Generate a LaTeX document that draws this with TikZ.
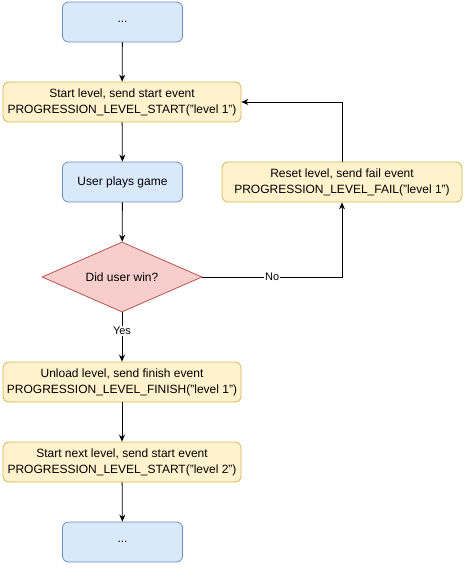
\documentclass[tikz,border=0pt]{standalone}
\usepackage{fontspec}
\setmainfont{Liberation Sans}
\usetikzlibrary{shapes.geometric,arrows.meta}

\definecolor{bluefill}{HTML}{DAE8FC}
\definecolor{bluedraw}{HTML}{6C8EBF}
\definecolor{yellowfill}{HTML}{FFF2CC}
\definecolor{yellowdraw}{HTML}{D6B656}
\definecolor{redfill}{HTML}{F8CECC}
\definecolor{reddraw}{HTML}{B85450}

\tikzset{
  box/.style={rectangle, rounded corners=6pt, line width=0.8pt, align=center,
    font=\fontsize{12}{16}\selectfont, inner sep=0pt},
  bluebox/.style={box, fill=bluefill, draw=bluedraw, minimum width=120pt, minimum height=40pt},
  yellowbox/.style={box, fill=yellowfill, draw=yellowdraw, minimum width=238pt, minimum height=40pt},
  decision/.style={diamond, fill=redfill, draw=reddraw, line width=0.8pt, aspect=2.2857,
    minimum width=160pt, minimum height=70pt, inner sep=0pt, font=\fontsize{12}{14}\selectfont},
  flow/.style={-{Stealth[length=7pt,width=6pt]}, line width=0.8pt},
  edgelabel/.style={fill=white, inner sep=1pt, font=\fontsize{11}{13}\selectfont}
}

\begin{document}
\begin{tikzpicture}[x=1pt,y=-1pt]
\useasboundingbox (0,0) rectangle (469,569);

\node[bluebox] (top) at (122.5,22) {...};
\node[yellowbox] (start) at (122,102) {Start level, send start event\\PROGRESSION\_LEVEL\_START("level 1")};
\node[bluebox] (play) at (122.5,182) {User plays game};
\node[yellowbox, minimum width=240pt] (reset) at (342,182) {Reset level, send fail event\\PROGRESSION\_LEVEL\_FAIL("level 1")};
\node[decision] (win) at (122,277) {Did user win?};
\node[yellowbox] (unload) at (122,382) {Unload level, send finish event\\PROGRESSION\_LEVEL\_FINISH("level 1")};
\node[yellowbox] (next) at (122,462) {Start next level, send start event\\PROGRESSION\_LEVEL\_START("level 2")};
\node[bluebox] (bottom) at (122.5,542) {...};

\draw[flow] (top) -- (start);
\draw[flow] (start) -- (play);
\draw[flow] (play) -- (win);
\draw[flow] (win.east) -| (reset.south) node[edgelabel, pos=0.25] {No};
\draw[flow] (reset.north) |- (start.east);
\draw[flow] (win.south) -- (unload.north) node[edgelabel, pos=0.38] {Yes};
\draw[flow] (unload) -- (next);
\draw[flow] (next) -- (bottom);

\end{tikzpicture}
\end{document}
